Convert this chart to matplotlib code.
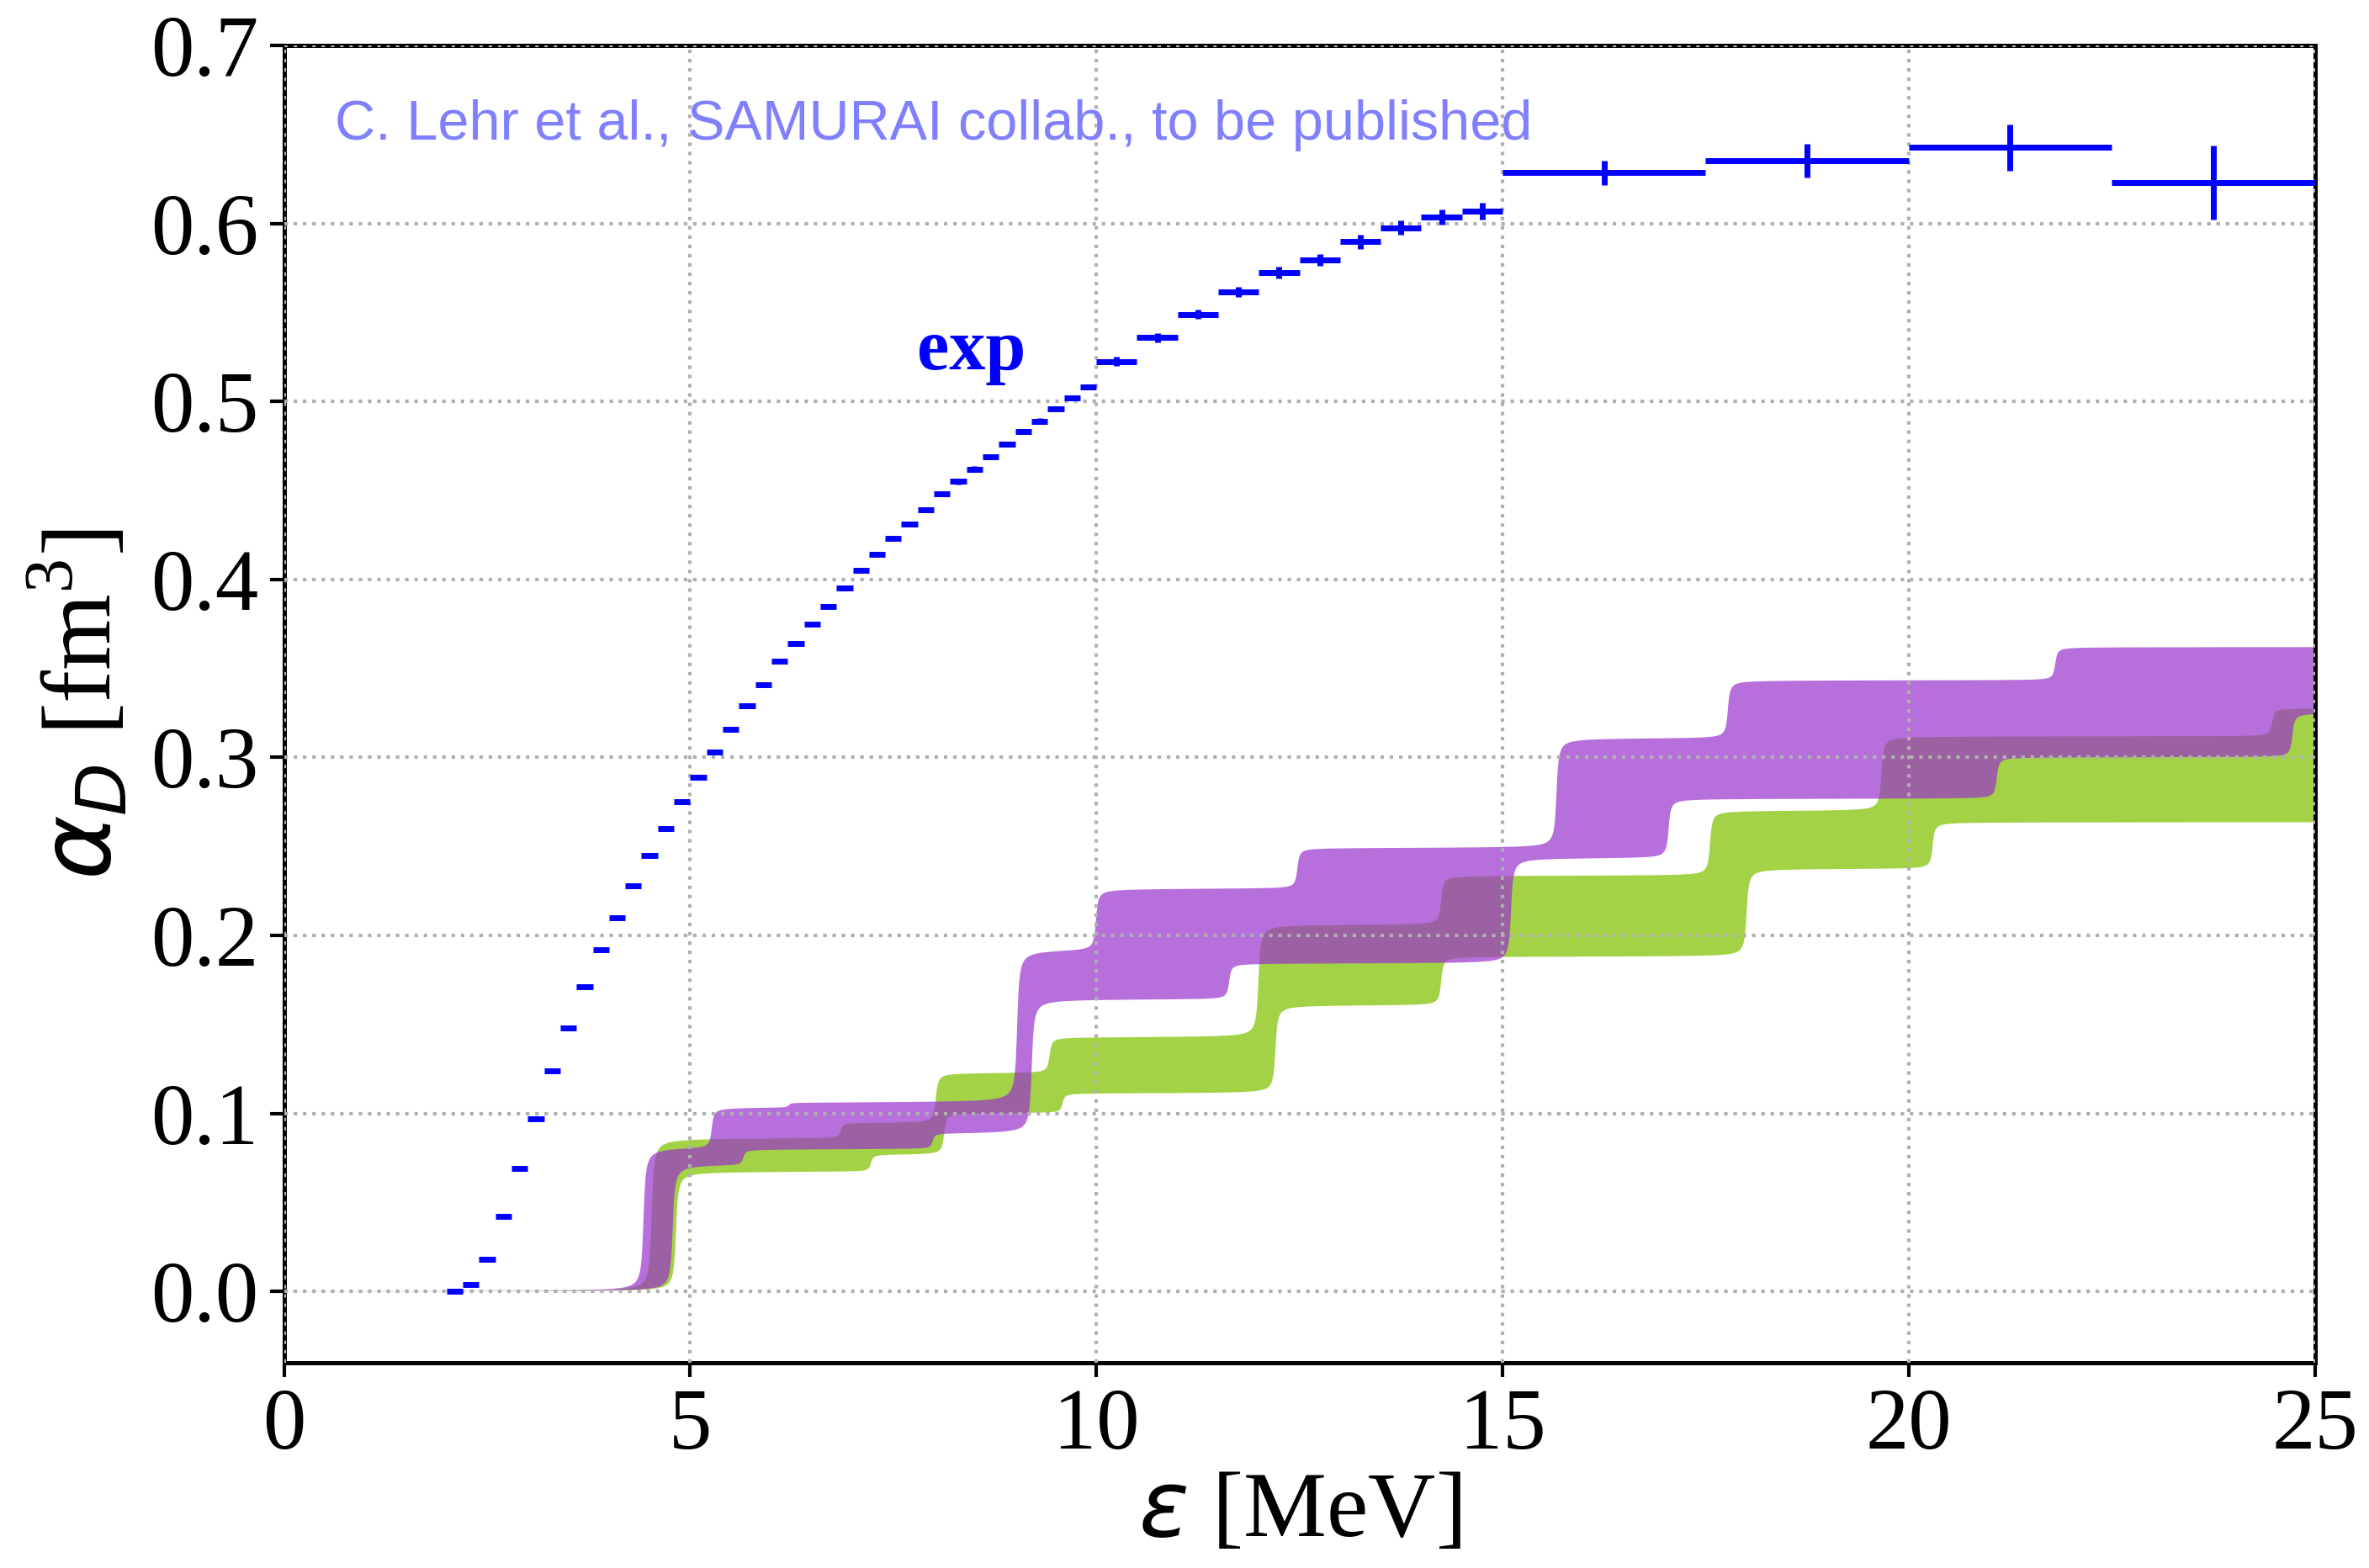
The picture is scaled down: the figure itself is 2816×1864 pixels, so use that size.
import numpy as np
import matplotlib
matplotlib.use("Agg")
import matplotlib.pyplot as plt

# ---------------- data ----------------
# experimental cumulative alpha_D (bin centres, half widths, values, errors)
exp_x = [2.1, 2.3, 2.5, 2.7, 2.9, 3.1, 3.3, 3.5, 3.7, 3.9,
         4.1, 4.3, 4.5, 4.7, 4.9, 5.1, 5.3, 5.5, 5.7, 5.9,
         6.1, 6.3, 6.5, 6.7, 6.9, 7.1, 7.3, 7.5, 7.7, 7.9,
         8.1, 8.3, 8.5, 8.7, 8.9, 9.1, 9.3, 9.5, 9.7, 9.9,
         10.25, 10.75, 11.25, 11.75, 12.25, 12.75, 13.25, 13.75, 14.25, 14.75,
         16.25, 18.75, 21.25, 23.75]
exp_hw = [0.1] * 40 + [0.25] * 10 + [1.25] * 4
exp_y = [0.000, 0.004, 0.018, 0.042, 0.069, 0.097, 0.124, 0.148, 0.171, 0.192,
         0.210, 0.228, 0.245, 0.260, 0.275, 0.289, 0.303, 0.316, 0.329, 0.341,
         0.354, 0.364, 0.375, 0.385, 0.395, 0.405, 0.414, 0.423, 0.431, 0.439,
         0.448, 0.455, 0.462, 0.469, 0.476, 0.483, 0.489, 0.496, 0.502, 0.508,
         0.5225, 0.536, 0.549, 0.5616, 0.5723, 0.5795, 0.5898, 0.5976, 0.6036, 0.607,
         0.6285, 0.6351, 0.6428, 0.623]
exp_err = [0.001] * 30 + [0.0015] * 10 + \
          [0.0025, 0.0026, 0.0028, 0.0030, 0.0034, 0.0035, 0.0040, 0.0040, 0.0044, 0.0047,
           0.0068, 0.0095, 0.013, 0.021]

# theory bands: step energies (MeV) and cumulative levels after each step (fm^3)
purple_upper_E = [4.42, 5.26, 6.21, 9.02, 9.99, 12.47, 15.66, 17.77, 21.80]
purple_upper_lvl = [0.0808, 0.1036, 0.1063, 0.1920, 0.2267, 0.2495, 0.3112, 0.3438, 0.3624]
purple_lower_E = [4.78, 5.65, 7.98, 9.20, 11.63, 15.10, 17.04, 21.08, 24.72]
purple_lower_lvl = [0.0713, 0.0800, 0.0887, 0.1644, 0.1845, 0.2438, 0.2772, 0.3005, 0.3252]
green_upper_E = [4.52, 6.85, 8.02, 9.42, 11.99, 14.24, 17.55, 19.66, 24.47]
green_upper_lvl = [0.0862, 0.0948, 0.1229, 0.1430, 0.2064, 0.2339, 0.2704, 0.3123, 0.3280]
green_lower_E = [4.82, 7.22, 8.12, 9.58, 12.20, 14.24, 18.00, 20.29]
green_lower_lvl = [0.0674, 0.0770, 0.1005, 0.1115, 0.1610, 0.1884, 0.2378, 0.2640]

xticks = [0, 5, 10, 15, 20, 25]
yticks = [0.0, 0.1, 0.2, 0.3, 0.4, 0.5, 0.6, 0.7]

# ---------------- style ----------------
plt.rcParams["font.family"] = ["Liberation Serif", "DejaVu Serif"]
plt.rcParams["mathtext.fontset"] = "custom"
plt.rcParams["mathtext.rm"] = "Liberation Serif"
plt.rcParams["mathtext.it"] = "DejaVu Sans:italic"
plt.rcParams["mathtext.bf"] = "Liberation Serif:bold"


def smooth_steps(x, energies, levels, width=0.02):
    """Cumulative staircase with slightly rounded (Lorentzian-smeared) steps."""
    y = np.zeros_like(x)
    prev = 0.0
    for e, lv in zip(energies, levels):
        y += (lv - prev) * (0.5 + np.arctan((x - e) / width) / np.pi)
        prev = lv
    return y


fig = plt.figure(figsize=(14.08, 9.32), dpi=200)
ax = fig.add_axes([0.1199, 0.131, 0.8572, 0.840])

xs = np.linspace(0, 25, 6001)
gl = smooth_steps(xs, green_lower_E, green_lower_lvl)
gu = smooth_steps(xs, green_upper_E, green_upper_lvl)
pl = smooth_steps(xs, purple_lower_E, purple_lower_lvl)
pu = smooth_steps(xs, purple_upper_E, purple_upper_lvl)

ax.fill_between(xs, gl, gu, color="yellowgreen", alpha=0.9, lw=0, zorder=1)
ax.fill_between(xs, pl, pu, color="darkorchid", alpha=0.7, lw=0, zorder=1.1)

ax.errorbar(exp_x, exp_y, xerr=exp_hw, yerr=exp_err, fmt="none",
            ecolor="blue", elinewidth=2.5, capsize=0, zorder=3)

ax.text(0.63, 0.655, "C. Lehr et al., SAMURAI collab., to be published",
        color=(0.5, 0.5, 1.0), fontsize=24, family="Liberation Sans",
        va="center", ha="left", zorder=4)
ax.text(7.79, 0.518, "exp", color="blue", fontsize=31, fontweight="bold",
        family="Liberation Serif", va="baseline", ha="left", zorder=4)

ax.set_xlim(0, 25)
ax.set_ylim(-0.04, 0.7)
ax.set_xticks(xticks)
ax.set_yticks(yticks)
ax.set_xticklabels([str(t) for t in xticks])
ax.set_yticklabels([f"{t:.1f}" for t in yticks])
ax.tick_params(direction="out", length=6, width=1.5, labelsize=37, pad=5)

ax.set_axisbelow(False)
ax.grid(True, linestyle=":", color="#b0b0b0", linewidth=1.5, zorder=2.5)

for s in ax.spines.values():
    s.set_linewidth(1.8)

ax.set_xlabel(r"$\varepsilon$ [MeV]", fontsize=40, labelpad=2)
ax.set_ylabel(r"$\alpha_D$ [fm$^3$]", fontsize=42, labelpad=8)

fig.savefig("out.png", dpi=200)
